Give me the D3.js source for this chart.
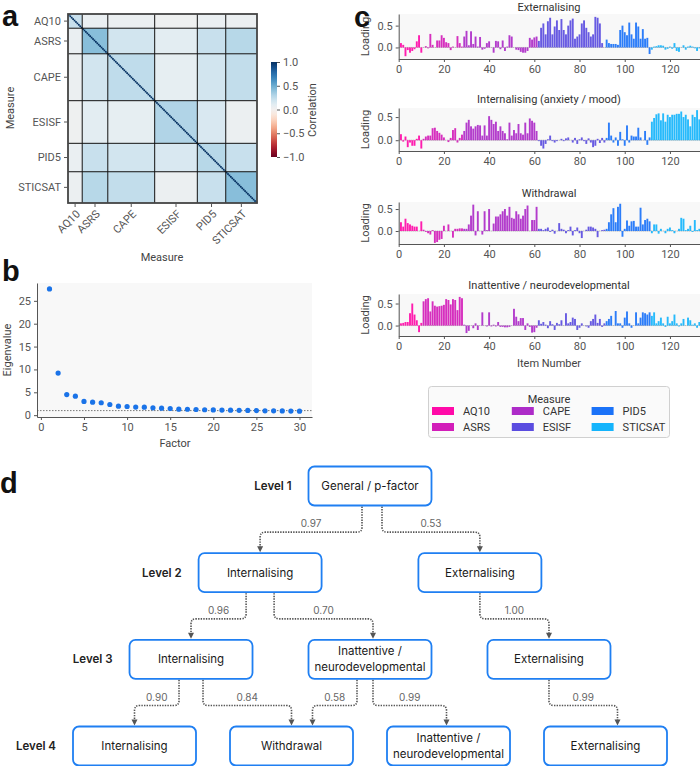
<!DOCTYPE html>
<html>
<head>
<meta charset="utf-8">
<script src="https://cdn.jsdelivr.net/npm/d3@7"></script>
<style>
body { margin: 0; background: #fff; }
svg { display: block; }
text { font-family: Roboto, "Noto Sans", sans-serif; }
.axis text { font-size: 11px; fill: #555; font-family: Roboto, sans-serif; }
.axis path, .axis line { stroke: #555; }
.diag text { font-family: Inter, Roboto, sans-serif; }
</style>
</head>
<body>
<svg id="fig" width="700" height="766"></svg>
<script>
// ---- data ----
const measures = ['AQ10', 'ASRS', 'CAPE', 'ESISF', 'PID5', 'STICSAT'];
const itemsPerMeasure = [10, 18, 33, 30, 20, 22];
const measureColours = ['#ff0aa8', '#d21db9', '#ad2bc8', '#5a4ce0', '#1a72f8', '#14b4fc'];

// mean correlation inside each measure-by-measure block
const blockCorrelation = [
  [0.22, 0.06, 0.05, 0.03, 0.06, 0.05],
  [0.06, 0.42, 0.18, 0.10, 0.22, 0.28],
  [0.05, 0.18, 0.25, 0.08, 0.18, 0.24],
  [0.03, 0.10, 0.08, 0.30, 0.15, 0.05],
  [0.06, 0.22, 0.18, 0.15, 0.28, 0.22],
  [0.05, 0.28, 0.24, 0.05, 0.22, 0.42]
];
const corrTicks = [1.0, 0.5, 0.0, -0.5, -1.0];

const eigenvalues = [27.6, 9.2, 4.5, 4.15, 3.0, 2.85, 2.72, 2.33, 1.97, 1.9,
  1.76, 1.75, 1.6, 1.53, 1.46, 1.32, 1.3, 1.24, 1.18, 1.15,
  1.12, 1.1, 1.07, 1.03, 1.0, 0.96, 0.94, 0.92, 0.9, 0.88];
const eigenYTicks = [0, 5, 10, 15, 20, 25];
const eigenXTicks = [0, 5, 10, 15, 20, 25, 30];
const kaiserCut = 1;

const factorTitles = ['Externalising', 'Internalising (anxiety / mood)', 'Withdrawal', 'Inattentive / neurodevelopmental'];

const loadExternalising = [
  0.10, 0.06, -0.20, -0.06, -0.12, -0.08, -0.04, 0.14, 0.28, -0.12,
  0.00, 0.03, -0.02, 0.31, 0.06, 0.00, 0.16, 0.16, 0.28, 0.22, 0.12, 0.10, -0.06, 0.02, 0.00, 0.26, 0.10, 0.02,
  0.25, 0.38, 0.05, 0.37, 0.08, 0.25, 0.02, 0.24, -0.05, -0.03, 0.10, 0.14, 0.00, -0.12, 0.15, 0.14, -0.04,
  0.16, -0.08, 0.02, 0.28, 0.25, 0.00, -0.05, -0.06, -0.10, -0.12, -0.12, -0.08, 0.22, 0.18, 0.23, 0.25,
  0.15, 0.45, 0.55, 0.30, 0.60, 0.68, 0.30, 0.48, 0.62, 0.40, 0.65, 0.40, 0.30, 0.50, 0.62, 0.66, 0.20,
  0.25, 0.30, 0.55, 0.62, 0.45, 0.35, 0.25, 0.30, 0.70, 0.68, 0.55, 0.10, 0.00,
  0.18, 0.10, 0.08, 0.08, 0.08, 0.06, 0.40, 0.50, 0.35, 0.28, 0.57, 0.30, 0.20, 0.57, 0.48, 0.20, 0.42, 0.20, 0.22, -0.15,
  -0.05, 0.02, 0.03, 0.05, 0.05, 0.04, -0.05, -0.03, 0.02, -0.03, 0.10, -0.08, -0.10, 0.00, 0.05, -0.05,
  0.02, 0.04, 0.02, -0.02, -0.08, -0.02
];
const loadInternalising = [
  0.13, -0.03, 0.08, -0.15, -0.05, -0.12, -0.12, 0.03, 0.10, -0.18,
  0.03, 0.08, 0.10, 0.10, 0.26, 0.27, 0.20, 0.16, 0.12, 0.06, 0.00, -0.04, 0.05, 0.22, 0.26, -0.05, 0.05, 0.12,
  0.20, 0.38, 0.44, 0.30, 0.25, 0.30, 0.33, 0.32, 0.10, 0.32, 0.10, 0.52, 0.44, 0.35, 0.40, 0.20, 0.30,
  0.20, 0.15, 0.02, 0.38, 0.10, 0.22, 0.15, 0.35, 0.15, 0.12, 0.38, 0.15, 0.47, 0.42, 0.38, 0.20,
  -0.02, -0.12, -0.18, -0.08, 0.02, 0.10, -0.02, -0.05, -0.02, 0.00, 0.03, -0.02, 0.04, 0.06, 0.00, -0.05,
  0.05, -0.08, 0.02, 0.06, -0.02, -0.08, 0.04, -0.05, -0.15, -0.12, 0.03, -0.06, 0.05, -0.05,
  0.05, 0.38, 0.10, -0.05, 0.06, -0.12, 0.18, 0.02, -0.12, 0.32, -0.05, 0.10, 0.08, 0.08, 0.27, 0.06, 0.00, 0.20, -0.10, 0.06,
  0.40, 0.48, 0.56, 0.58, 0.43, 0.58, 0.40, 0.55, 0.50, 0.55, 0.55, 0.57, 0.57, 0.62, 0.50, 0.55,
  0.45, 0.30, 0.55, 0.50, 0.65, 0.45
];
const loadWithdrawal = [
  0.20, 0.10, 0.28, 0.18, 0.15, 0.12, 0.10, 0.10, 0.00, 0.22,
  0.03, -0.02, -0.05, -0.08, 0.02, -0.27, -0.25, -0.20, -0.18, 0.12, 0.00, 0.15, 0.00, -0.15, 0.05, 0.05, 0.06, 0.06,
  0.05, 0.05, 0.15, 0.35, 0.60, -0.10, 0.45, 0.00, -0.08, 0.45, 0.02, 0.50, 0.00, 0.17, 0.33, 0.33, 0.38,
  0.45, 0.50, 0.35, 0.55, 0.30, 0.28, 0.45, 0.38, 0.28, 0.35, 0.50, 0.58, 0.00, 0.25, 0.25, 0.55,
  0.05, 0.05, 0.02, 0.05, 0.08, -0.02, 0.03, -0.06, 0.00, 0.18, 0.05, 0.03, -0.05, 0.02, 0.10, -0.10,
  0.02, 0.08, -0.05, -0.16, 0.00, 0.03, 0.10, 0.10, 0.08, 0.05, -0.14, 0.00, 0.02, 0.03,
  0.05, 0.20, 0.38, 0.52, 0.20, 0.55, 0.62, -0.13, 0.05, 0.24, 0.12, 0.22, 0.23, 0.10, 0.10, 0.53, 0.15, 0.25, 0.28, 0.22,
  -0.05, 0.15, 0.15, -0.06, 0.05, 0.00, -0.05, 0.05, 0.08, 0.02, -0.05, 0.00, 0.05, 0.30, 0.28, 0.02,
  0.05, 0.12, -0.02, 0.25, 0.02, 0.05
];
const loadInattentive = [
  0.05, 0.06, 0.08, 0.08, 0.28, 0.50, 0.25, 0.12, -0.15, 0.06,
  0.55, 0.60, 0.62, 0.32, 0.55, 0.45, 0.43, 0.44, 0.45, 0.47, 0.60, 0.58, 0.48, 0.60, 0.58, 0.35, 0.65, 0.62,
  0.02, -0.17, -0.12, 0.00, -0.06, 0.05, -0.10, 0.00, 0.30, 0.00, -0.02, 0.30, -0.02, 0.02, -0.02, 0.08,
  -0.03, -0.03, -0.04, -0.04, -0.03, 0.00, 0.38, 0.20, 0.10, 0.17, 0.17, -0.10, 0.05, -0.03, -0.16, -0.15, -0.05,
  0.12, 0.04, 0.08, 0.02, -0.06, 0.10, 0.03, -0.10, 0.06, 0.03, 0.12, 0.00, 0.28, 0.05, 0.08, 0.18,
  0.15, -0.10, -0.05, 0.05, 0.00, -0.02, -0.05, 0.10, 0.15, 0.25, 0.06, 0.15, -0.03, 0.05,
  0.10, 0.15, 0.22, 0.00, 0.33, 0.05, 0.05, -0.05, 0.18, 0.32, 0.05, -0.05, 0.00, 0.30, 0.05, 0.18, 0.30, 0.28, 0.25, 0.30,
  0.22, 0.30, 0.05, 0.10, 0.18, 0.05, -0.03, 0.20, 0.05, 0.10, 0.25, 0.05, -0.02, 0.05, 0.15, 0.00,
  0.18, 0.12, 0.02, 0.05, -0.05, 0.08
];
const itemTicks = [0, 20, 40, 60, 80, 100, 120];
const loadingTicks = [0.0, 0.5];

const levelLabels = ['Level 1', 'Level 2', 'Level 3', 'Level 4'];
const hierNodes = [
  {id: 'g', level: 1, label: ['General / p-factor']},
  {id: 'int2', level: 2, label: ['Internalising']},
  {id: 'ext2', level: 2, label: ['Externalising']},
  {id: 'int3', level: 3, label: ['Internalising']},
  {id: 'ina3', level: 3, label: ['Inattentive /', 'neurodevelopmental']},
  {id: 'ext3', level: 3, label: ['Externalising']},
  {id: 'int4', level: 4, label: ['Internalising']},
  {id: 'wd4', level: 4, label: ['Withdrawal']},
  {id: 'ina4', level: 4, label: ['Inattentive /', 'neurodevelopmental']},
  {id: 'ext4', level: 4, label: ['Externalising']}
];
const hierLinks = [
  ['g', 'int2'], ['g', 'ext2'], ['int2', 'int3'], ['int2', 'ina3'], ['ext2', 'ext3'],
  ['int3', 'int4'], ['int3', 'wd4'], ['ina3', 'wd4'], ['ina3', 'ina4'], ['ext3', 'ext4']
];
const linkLoadings = [0.97, 0.53, 0.96, 0.70, 1.00, 0.90, 0.84, 0.58, 0.99, 0.99];

// ---- layout (not data) ----
const nodeSlot = {g: 1.5, int2: 0.8, ext2: 2.2, int3: 0.36, ina3: 1.5, ext3: 2.64, int4: 0, wd4: 1, ina4: 2, ext4: 3};
const linkOffsets = [[-8, 0], [12, 0], [-14, 0], [14, 3], [0, 0], [-12, 0], [12, 0], [-13, 21], [3, -2], [0, 12]];

const svg = d3.select('#fig');
const nItems = d3.sum(itemsPerMeasure);
const starts = itemsPerMeasure.map((n, i) => d3.sum(itemsPerMeasure.slice(0, i)));
const itemMeasure = [];
itemsPerMeasure.forEach((n, k) => { for (let j = 0; j < n; j++) itemMeasure.push(k); });

function panelLetter(t, x, y) {
  svg.append('text').attr('x', x).attr('y', y).text(t)
    .style('font-family', '"Liberation Sans", Arial, sans-serif')
    .style('font-weight', 'bold').style('font-size', '29px').style('fill', '#111');
}

// ===== a: correlation heatmap =====
const corrColour = d3.scaleSequential(d3.interpolateRdBu).domain([-1, 1]);
const hx = d3.scaleLinear([0, nItems], [68, 257]);
const hy = d3.scaleLinear([0, nItems], [14, 203]);
const gA = svg.append('g');

const blocks = [];
measures.forEach((r, i) => measures.forEach((c, j) => blocks.push({i, j, v: blockCorrelation[i][j]})));
gA.selectAll('.blk').data(blocks).join('rect')
  .attr('x', d => hx(starts[d.j])).attr('y', d => hy(starts[d.i]))
  .attr('width', d => hx(itemsPerMeasure[d.j]) - hx(0))
  .attr('height', d => hy(itemsPerMeasure[d.i]) - hy(0))
  .attr('fill', d => corrColour(d.v));
gA.selectAll('.dg').data(itemMeasure).join('rect')
  .attr('x', (d, i) => hx(i)).attr('y', (d, i) => hy(i))
  .attr('width', hx(1) - hx(0) + 0.3).attr('height', hy(1) - hy(0) + 0.3)
  .attr('fill', corrColour(1));
starts.slice(1).forEach(s => {
  gA.append('line').attr('x1', hx(s)).attr('x2', hx(s)).attr('y1', hy(0)).attr('y2', hy(nItems))
    .attr('stroke', '#111').attr('stroke-width', 1);
  gA.append('line').attr('y1', hy(s)).attr('y2', hy(s)).attr('x1', hx(0)).attr('x2', hx(nItems))
    .attr('stroke', '#111').attr('stroke-width', 1);
});
gA.append('rect').attr('x', hx(0)).attr('y', hy(0))
  .attr('width', hx(nItems) - hx(0)).attr('height', hy(nItems) - hy(0))
  .attr('fill', 'none').attr('stroke', '#444').attr('stroke-width', 1.8);

const mid = measures.map((m, k) => starts[k] + itemsPerMeasure[k] / 2);
measures.forEach((m, k) => {
  const yy = hy(mid[k]);
  gA.append('line').attr('x1', hx(0) - 4).attr('x2', hx(0)).attr('y1', yy).attr('y2', yy).attr('stroke', '#555');
  gA.append('text').attr('x', hx(0) - 7).attr('y', yy).attr('dy', '0.35em').attr('text-anchor', 'end')
    .style('font-size', '11px').style('fill', '#555').text(m);
  const xx = hx(mid[k]);
  gA.append('line').attr('x1', xx).attr('x2', xx).attr('y1', hy(nItems)).attr('y2', hy(nItems) + 4).attr('stroke', '#555');
  gA.append('text').attr('transform', `translate(${xx + 3},${hy(nItems) + 9}) rotate(-45)`)
    .attr('text-anchor', 'end').attr('dy', '0.35em')
    .style('font-size', '11px').style('fill', '#555').text(m);
});
gA.append('text').attr('x', 162).attr('y', 261).attr('text-anchor', 'middle')
  .style('font-size', '11px').style('fill', '#444').text('Measure');
gA.append('text').attr('transform', 'translate(14,108) rotate(-90)').attr('text-anchor', 'middle')
  .style('font-size', '11px').style('fill', '#444').text('Measure');

// colourbar
const cb = d3.scaleLinear([-1, 1], [157, 62]);
const grad = svg.append('defs').append('linearGradient').attr('id', 'cbg')
  .attr('x1', 0).attr('x2', 0).attr('y1', 1).attr('y2', 0);
d3.range(0, 1.0001, 0.05).forEach(t => grad.append('stop').attr('offset', t).attr('stop-color', d3.interpolateRdBu(t)));
gA.append('rect').attr('x', 271).attr('y', cb(1)).attr('width', 6).attr('height', cb(-1) - cb(1)).attr('fill', 'url(#cbg)');
const cbAxis = gA.append('g').attr('class', 'axis').attr('transform', 'translate(277,0)')
  .call(d3.axisRight(cb).tickValues(corrTicks).tickSize(3).tickSizeOuter(0).tickFormat(d3.format('.1f')));
cbAxis.select('.domain').remove();
cbAxis.selectAll('text').text(d => d3.format('.1f')(d).replace('-', '\u2212'));
gA.append('text').attr('transform', 'translate(316,110) rotate(-90)').attr('text-anchor', 'middle')
  .style('font-size', '11px').style('fill', '#444').text('Correlation');

panelLetter('a', 2, 26);

// ===== b: scree plot =====
const bx = d3.scaleLinear([-0.45, 31.45], [37, 312]);
const by = d3.scaleLinear([-0.4, 28.9], [417, 283]);
const gB = svg.append('g');
gB.append('rect').attr('x', 37).attr('y', 283).attr('width', 275).attr('height', 134).attr('fill', '#f8f8f8');
gB.append('line').attr('x1', 37).attr('x2', 312).attr('y1', by(kaiserCut)).attr('y2', by(kaiserCut))
  .attr('stroke', '#777').attr('stroke-width', 1).attr('stroke-dasharray', '1.5,1.5');
gB.selectAll('circle').data(eigenvalues).join('circle')
  .attr('cx', (d, i) => bx(i + 1)).attr('cy', d => by(d)).attr('r', 2.6).attr('fill', '#1a73e8');
gB.append('g').attr('class', 'axis').attr('transform', 'translate(37,0)')
  .call(d3.axisLeft(by).tickValues(eigenYTicks).tickSize(3).tickSizeOuter(0));
gB.append('g').attr('class', 'axis').attr('transform', 'translate(0,417)')
  .call(d3.axisBottom(bx).tickValues(eigenXTicks).tickSize(3).tickSizeOuter(0));
gB.append('text').attr('x', 175).attr('y', 447).attr('text-anchor', 'middle')
  .style('font-size', '11px').style('fill', '#444').text('Factor');
gB.append('text').attr('transform', 'translate(11,350) rotate(-90)').attr('text-anchor', 'middle')
  .style('font-size', '11px').style('fill', '#444').text('Eigenvalue');
panelLetter('b', 2, 281);

// ===== c: loadings =====
const loadings = [loadExternalising, loadInternalising, loadWithdrawal, loadInattentive];
const panelBox = [
  {top: 14, bottom: 59, lo: -0.264, hi: 0.766},
  {top: 108, bottom: 151, lo: -0.233, hi: 0.696},
  {top: 202, bottom: 244, lo: -0.295, hi: 0.66},
  {top: 294, bottom: 336, lo: -0.237, hi: 0.716}
];
const cx = d3.scaleLinear([0, 133.3], [398.7, 700]);
loadings.forEach((vals, p) => {
  const pb = panelBox[p];
  const cy = d3.scaleLinear([pb.lo, pb.hi], [pb.bottom, pb.top]);
  const g = svg.append('g');
  g.append('rect').attr('x', cx(0)).attr('y', pb.top).attr('width', 700 - cx(0)).attr('height', pb.bottom - pb.top)
    .attr('fill', '#f8f8f8');
  g.append('line').attr('x1', cx(0)).attr('x2', 700).attr('y1', cy(0)).attr('y2', cy(0))
    .attr('stroke', '#888').attr('stroke-width', 0.8).attr('stroke-dasharray', '1,1');
  g.selectAll('.bar').data(vals).join('rect')
    .attr('x', (d, i) => cx(i + 1 - 0.42)).attr('width', cx(0.84) - cx(0))
    .attr('y', d => cy(Math.max(0, d))).attr('height', d => Math.abs(cy(d) - cy(0)))
    .attr('fill', (d, i) => measureColours[itemMeasure[i]]).attr('fill-opacity', 0.92);
  g.append('g').attr('class', 'axis').attr('transform', `translate(${cx(0)},0)`)
    .call(d3.axisLeft(cy).tickValues(loadingTicks).tickSize(3).tickSizeOuter(0).tickFormat(d3.format('.1f')));
  g.append('g').attr('class', 'axis').attr('transform', `translate(0,${pb.bottom})`)
    .call(d3.axisBottom(cx).tickValues(itemTicks).tickSize(3).tickSizeOuter(0));
  g.append('text').attr('x', 549).attr('y', Math.max(pb.top - 5, 11)).attr('text-anchor', 'middle')
    .style('font-size', '11px').style('fill', '#333').text(factorTitles[p]);
  g.append('text').attr('transform', `translate(369,${(pb.top + pb.bottom) / 2}) rotate(-90)`).attr('text-anchor', 'middle')
    .style('font-size', '11px').style('fill', '#444').text('Loading');
});
svg.append('text').attr('x', 549).attr('y', 367).attr('text-anchor', 'middle')
  .style('font-size', '11px').style('fill', '#444').text('Item Number');
panelLetter('c', 354, 27);

// legend
const gL = svg.append('g');
gL.append('rect').attr('x', 428.5).attr('y', 386.5).attr('width', 241).attr('height', 51).attr('rx', 3)
  .attr('fill', '#fafafa').attr('stroke', '#d0d0d0');
gL.append('text').attr('x', 549).attr('y', 399).attr('dy', '0.35em').attr('text-anchor', 'middle')
  .style('font-size', '11px').style('fill', '#333').text('Measure');
const lg = gL.selectAll('.lg').data(measures).join('g')
  .attr('transform', (d, k) => `translate(${432 + Math.floor(k / 2) * 79.8},${411 + (k % 2) * 16})`);
lg.append('rect').attr('x', 0).attr('y', -4).attr('width', 22).attr('height', 8).attr('fill', (d, k) => measureColours[k]);
lg.append('text').attr('x', 31).attr('dy', '0.35em').style('font-size', '11px').style('fill', '#333').text(d => d);

// ===== d: hierarchy =====
const gD = svg.append('g').attr('class', 'diag');
const ly = d3.scaleLinear([1, 4], [486, 746]);
const sx = d3.scaleLinear([0, 3], [134.5, 605.5]);
const boxW = 123, boxH = 39;
const byId = {};
hierNodes.forEach(n => { n.x = sx(nodeSlot[n.id]); n.y = ly(n.level); byId[n.id] = n; });

hierLinks.forEach(([a, b], k) => {
  const s = byId[a], t = byId[b];
  const x0 = s.x + linkOffsets[k][0], x1 = t.x + linkOffsets[k][1];
  const y0 = s.y + boxH / 2 + 1, yt = t.y - boxH / 2 - 1;
  const ym = yt - 20;
  const r = 5, sg = x1 > x0 ? 1 : -1;
  const path = d3.path();
  path.moveTo(x0, y0);
  path.lineTo(x0, ym - r);
  path.quadraticCurveTo(x0, ym, x0 + sg * r, ym);
  path.lineTo(x1 - sg * r, ym);
  path.quadraticCurveTo(x1, ym, x1, ym + r);
  path.lineTo(x1, yt - 5);
  gD.append('path').attr('d', path.toString()).attr('fill', 'none')
    .attr('stroke', '#555').attr('stroke-width', 1.6).attr('stroke-dasharray', '1.4,1.2');
  gD.append('path').attr('d', `M${x1 - 3},${yt - 6}L${x1 + 3},${yt - 6}L${x1},${yt}Z`).attr('fill', '#555');
  gD.append('text').attr('x', (x0 + x1) / 2).attr('y', ym - 5).attr('text-anchor', 'middle')
    .style('font-size', '10px').style('fill', '#666').text(d3.format('.2f')(linkLoadings[k]));
});

const nd = gD.selectAll('.node').data(hierNodes).join('g').attr('transform', d => `translate(${d.x},${d.y})`);
nd.append('rect').attr('x', -boxW / 2).attr('y', -boxH / 2).attr('width', boxW).attr('height', boxH).attr('rx', 6)
  .attr('fill', '#fff').attr('stroke', '#1f7ff2').attr('stroke-width', 1.8);
nd.each(function (d) {
  const g = d3.select(this);
  d.label.forEach((l, i) => {
    g.append('text').attr('y', (i - (d.label.length - 1) / 2) * 16).attr('dy', '0.36em').attr('text-anchor', 'middle')
      .style('font-size', '11.5px').style('fill', '#1a1a1a').text(l);
  });
});
levelLabels.forEach((l, i) => {
  const left = d3.min(hierNodes.filter(n => n.level === i + 1), n => n.x) - boxW / 2;
  gD.append('text').attr('x', left - 17).attr('y', ly(i + 1)).attr('dy', '0.36em').attr('text-anchor', 'end')
    .style('font-size', '11.5px').style('font-weight', 600).style('fill', '#222').text(l);
});
panelLetter('d', 0, 493);
</script>
</body>
</html>
